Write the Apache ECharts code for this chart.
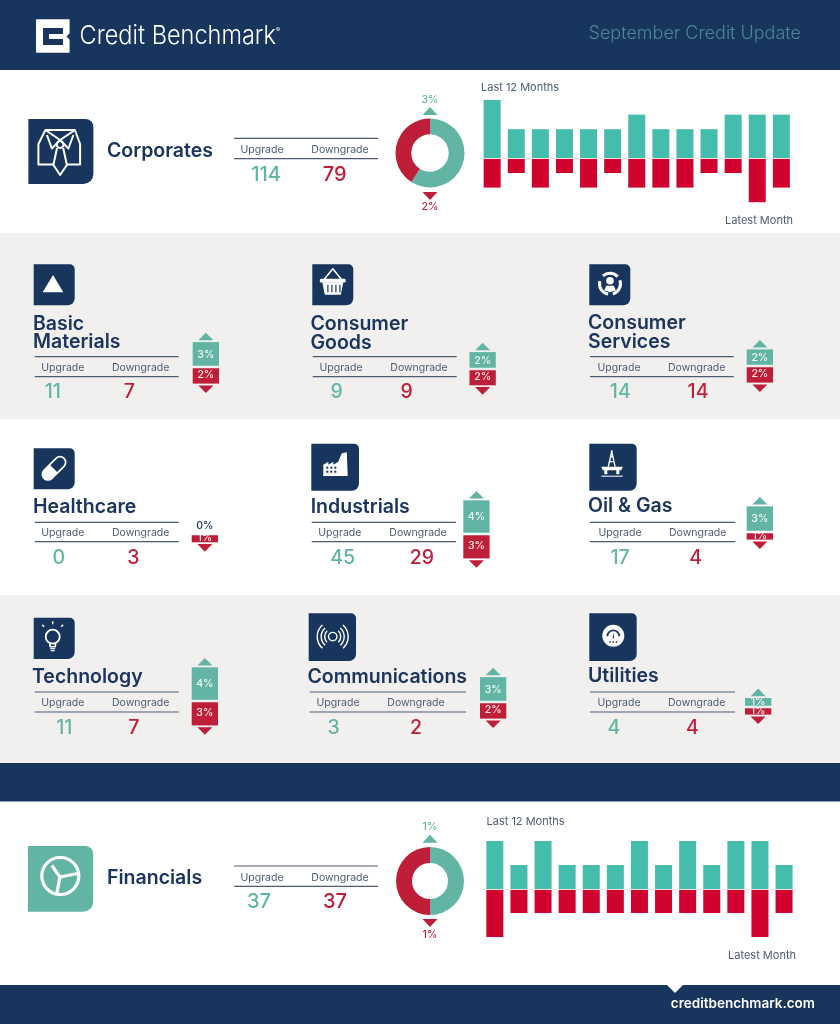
<!DOCTYPE html>
<html>
<head>
<meta charset="utf-8">
<title>September Credit Update</title>
<script src="https://cdn.jsdelivr.net/npm/echarts@6/dist/echarts.min.js"></script>
<style>
  html, body { margin: 0; padding: 0; background: #fff; }
  #chart { width: 840px; height: 1024px; }
</style>
</head>
<body>
<div id="chart"></div>
<script>
// values
const monthIndex = ['1', '2', '3', '4', '5', '6', '7', '8', '9', '10', '11', '12', '13'];
const corporatesUp = [4, 2, 2, 2, 2, 2, 3, 2, 2, 2, 3, 3, 3];
const corporatesDown = [-2, -1, -2, -1, -2, -1, -2, -2, -2, -1, -1, -3, -2];
const financialsUp = [2, 1, 2, 1, 1, 1, 2, 1, 2, 1, 2, 2, 1];
const financialsDown = [-2, -1, -1, -1, -1, -1, -1, -1, -1, -1, -1, -2, -1];
const corporatesCounts = [114, 79];
const financialsCounts = [37, 37];
const corporatesPct = [3, 2];
const financialsPct = [1, 1];

const sectorNames = ['Basic Materials', 'Consumer Goods', 'Consumer Services', 'Healthcare', 'Industrials', 'Oil & Gas', 'Technology', 'Communications', 'Utilities'];
const sectorUpgrades = [11, 9, 14, 0, 45, 17, 11, 3, 4];
const sectorDowngrades = [7, 9, 14, 3, 29, 4, 7, 2, 4];
const sectorUpPct = [3, 2, 2, 0, 4, 3, 4, 3, 1];
const sectorDownPct = [-2, -2, -2, -1, -3, -1, -3, -2, -1];

const NAVY = '#17355d', TITLE = '#1c3560', TEAL = '#62b5a4', RED = '#be1e37';
const BAR_TEAL = '#45bdad', BAR_RED = '#d0022e', GREY = '#f1f0ee', TEXT = '#4d5b73';
const FONT = 'Inter';

// where each sector block sits on the page
const sectorLayout = [
  { icon: [33.7, 264.3, 41, 41], titleX: 33, titleY: [323.5, 341.5], line: [34.7, 178.7, 356.7, 376.7], upX: 62.8, downX: 140.7, upVal: 52.8, downVal: 129.3, valY: 391, barX: 192.7, zero: 367, bg: GREY },
  { icon: [312.3, 264.3, 41, 41], titleX: 310.5, titleY: [323.5, 342], line: [312.7, 456.7, 356.7, 376.7], upX: 341, downX: 419, upVal: 336.7, downVal: 406.7, valY: 391, barX: 469.5, zero: 368.7, bg: GREY },
  { icon: [589.3, 264.3, 41, 41], titleX: 588, titleY: [322.5, 341], line: [590, 733.7, 356.7, 376.7], upX: 619, downX: 696.7, upVal: 620.3, downVal: 698, valY: 391, barX: 746.7, zero: 366, bg: GREY },
  { icon: [33.7, 448.3, 41, 41], titleX: 33, titleY: [505.7], line: [34.7, 178.7, 522.3, 541.7], upX: 62.8, downX: 140.7, upVal: 58.7, downVal: 133.3, valY: 556.7, barX: 191.7, zero: 534, bg: '#fff' },
  { icon: [311.3, 443.7, 47.7, 47], titleX: 310.7, titleY: [505.7], line: [311.7, 456, 522.3, 541.7], upX: 339.8, downX: 418, upVal: 342.7, downVal: 422, valY: 556.7, barX: 463.3, zero: 533.5, bg: '#fff' },
  { icon: [589.3, 443.7, 47.4, 47], titleX: 588, titleY: [505], line: [590, 735.3, 522.3, 541.7], upX: 620, downX: 697.7, upVal: 620, downVal: 695.7, valY: 556.7, barX: 746.7, zero: 531.3, bg: '#fff' },
  { icon: [33.7, 617.7, 41, 41.3], titleX: 32, titleY: [675.7], line: [34.7, 178.7, 692, 712], upX: 62.8, downX: 140.7, upVal: 64.3, downVal: 133.7, valY: 727, barX: 191.7, zero: 700.5, bg: GREY },
  { icon: [308.7, 613.3, 47.3, 47.7], titleX: 307.5, titleY: [676], line: [309.7, 466, 692, 712], upX: 338, downX: 416, upVal: 333.7, downVal: 416, valY: 727, barX: 480, zero: 702, bg: GREY },
  { icon: [589.3, 613.3, 47.4, 47.7], titleX: 588, titleY: [675.3], line: [590, 735, 692, 712], upX: 619, downX: 696.7, upVal: 614, downVal: 692.3, valY: 727, barX: 745, zero: 706.3, bg: GREY }
];

// small drawing helpers for the graphic layer
function text(t, x, y, size, color, weight, align) {
  // +1 because Inter sits a touch high with middle alignment
  return { type: 'text', x: x, y: y + 1, silent: true, style: { text: t, fill: color, font: (weight || 400) + ' ' + size + 'px ' + FONT, textAlign: align || 'center', textVerticalAlign: 'middle' } };
}
function rect(x, y, w, h, fill, r) {
  return { type: 'rect', silent: true, shape: { x: x, y: y, width: w, height: h, r: r || 0 }, style: { fill: fill } };
}
function hline(x1, x2, y, color, w) {
  return { type: 'line', silent: true, shape: { x1: x1, y1: y, x2: x2, y2: y }, style: { stroke: color || TEXT, lineWidth: w || 1.2 } };
}
function poly(points, fill) {
  return { type: 'polygon', silent: true, shape: { points: points }, style: { fill: fill || '#fff' } };
}
function stroke(points, w, color) {
  return { type: 'polyline', silent: true, shape: { points: points }, style: { stroke: color || '#fff', lineWidth: w || 1.8, fill: null, lineJoin: 'round' } };
}
function circle(cx, cy, r, fill, strokeColor, w) {
  return { type: 'circle', silent: true, shape: { cx: cx, cy: cy, r: r }, style: { fill: fill || null, stroke: strokeColor || null, lineWidth: w || 0 } };
}
function arc(cx, cy, r, a, b, w, color) {
  return { type: 'arc', silent: true, shape: { cx: cx, cy: cy, r: r, startAngle: a, endAngle: b }, style: { stroke: color || '#fff', lineWidth: w || 1.5, fill: null } };
}

// icon glyphs, coordinates are local to the icon tile
const glyphs = {
  corporates: [
    stroke([[25, 45.5], [10, 45.5], [10, 25], [17, 11], [46.5, 11], [51.7, 25], [51.7, 45.5], [38.5, 45.5]], 2),
    stroke([[17, 11], [31.7, 21], [46.5, 11]], 2),
    stroke([[18.5, 16], [23.5, 29.5], [31.7, 21], [40, 29.5], [45, 16]], 2),
    circle(31.7, 25.5, 3.4, null, '#fff', 2),
    stroke([[28.6, 29], [25, 46], [31.7, 56], [38.5, 46], [34.8, 29]], 2)
  ],
  basic: [poly([[9, 28], [29.6, 28], [19.3, 10.7]])],
  goods: [
    stroke([[12, 15], [20.5, 4.5], [29, 15]], 1.6),
    rect(7.5, 14.5, 26, 3.6, '#fff', 1.5),
    poly([[10, 18], [31, 18], [28.5, 30.5], [12.5, 30.5]]),
    rect(15, 20.5, 1.2, 7.5, NAVY), rect(19, 20.5, 1.2, 7.5, NAVY), rect(23, 20.5, 1.2, 7.5, NAVY), rect(27, 20.5, 1.2, 7.5, NAVY)
  ],
  services: [
    arc(20.7, 19.5, 10.5, -2.3, -0.75, 3), arc(20.7, 19.5, 10.5, -0.35, 1.3, 3), arc(20.7, 19.5, 10.5, 1.75, 3.4, 3),
    circle(20.7, 16.5, 3.8, '#fff'),
    poly([[15, 26], [17, 21.5], [24.5, 21.5], [26.5, 26], [20.7, 28]])
  ],
  healthcare: [{
    type: 'group', x: 20.3, y: 20, rotation: Math.PI / 4, silent: true,
    children: [
      rect(-15, -6.5, 30, 13, '#fff', 6.5),
      rect(-0.5, -4.8, 13.8, 9.6, NAVY, [0, 4.8, 4.8, 0])
    ]
  }],
  industrials: [
    poly([[12, 32.3], [12, 21], [17, 18], [17, 21], [22, 18], [22, 21], [27, 18], [30.5, 9.5], [35.5, 8.6], [36.4, 32.3]]),
    rect(15, 23, 2, 2, NAVY), rect(19, 23, 2, 2, NAVY), rect(23, 23, 2, 2, NAVY),
    rect(15, 27, 2, 2, NAVY), rect(19, 27, 2, 2, NAVY), rect(23, 27, 2, 2, NAVY)
  ],
  oil: [
    stroke([[19, 23], [22.4, 8], [25.8, 23]], 1.4),
    stroke([[20, 18], [24.8, 18]], 1.2),
    stroke([[20.8, 13], [24, 13]], 1.2),
    rect(21.6, 6.5, 1.6, 3, '#fff'),
    poly([[12, 23], [33.5, 23], [32, 26.5], [13.5, 26.5]]),
    rect(15, 26, 3, 4.5, '#fff'), rect(27, 26, 3, 4.5, '#fff'),
    stroke([[12, 32.5], [33.5, 32.5]], 1)
  ],
  technology: [
    circle(19, 19, 7, null, '#fff', 1.8),
    stroke([[16, 25], [16.5, 29], [21.5, 29], [22, 25]], 1.6),
    hline(16.5, 21.5, 31, '#fff', 1.2), hline(17, 21, 33, '#fff', 1.2),
    stroke([[19, 3.5], [19, 6.5]], 1.4), stroke([[8.5, 7], [10.5, 9]], 1.4), stroke([[29.5, 7], [27.5, 9]], 1.4)
  ],
  communications: [
    circle(24, 23.3, 4.2, null, '#fff', 1.4),
    arc(24, 23.3, 8, -0.8, 0.8, 1.4), arc(24, 23.3, 8, 2.34, 3.94, 1.4),
    arc(24, 23.3, 11.5, -0.85, 0.85, 1.4), arc(24, 23.3, 11.5, 2.29, 3.99, 1.4),
    arc(24, 23.3, 15.5, -0.85, 0.85, 1.4), arc(24, 23.3, 15.5, 2.29, 3.99, 1.4)
  ],
  utilities: [
    circle(24, 22.4, 11, '#fff'),
    arc(24, 23, 6, Math.PI, 2 * Math.PI, 1.8, NAVY),
    poly([[23.2, 25], [24.8, 25], [24.6, 19.5]], NAVY),
    rect(20, 28, 1.5, 1.5, NAVY), rect(23.2, 28, 1.5, 1.5, NAVY), rect(26.4, 28, 1.5, 1.5, NAVY)
  ],
  financials: [
    circle(32.4, 30, 18.5, null, '#fff', 3.2),
    stroke([[24, 19.5], [32, 31], [50, 27.5]], 3.2),
    stroke([[32, 31], [28.8, 48]], 3.2)
  ]
};
const sectorGlyphs = ['basic', 'goods', 'services', 'healthcare', 'industrials', 'oil', 'technology', 'communications', 'utilities'];

function iconTile(box, color, glyph, big) {
  const r = big ? [0, 8, 10, 0] : [0, 5, 7, 0];
  return {
    type: 'group', x: box[0], y: box[1], silent: true,
    children: [rect(0, 0, box[2], box[3], color, r)].concat(glyphs[glyph])
  };
}

// the wordmark is narrower than Inter, so squeeze it
const wordmark = text('Credit Benchmark', 79.5, 35.5, 26, '#fff', 300, 'left');
wordmark.scaleX = 0.905;

// page background first, everything else is stacked on it
const elements = [
  rect(0, 0, 840, 70, NAVY),
  rect(0, 233, 840, 186, GREY),
  rect(0, 595, 840, 168, GREY),
  rect(0, 763, 840, 38.5, NAVY),
  rect(0, 985, 840, 39, NAVY),
  poly([[667, 985], [683, 985], [675, 993]], '#fff'),
  // logo
  rect(36, 19.3, 33.6, 33.4, '#fff', 1),
  rect(43, 28, 20, 17, NAVY),
  rect(49, 34, 14, 5, '#fff'),
  poly([[70, 33], [70, 40], [66.5, 36.5]], NAVY),
  wordmark,
  text('®', 276, 29, 6, '#fff', 400, 'left'),
  text('September Credit Update', 801, 33, 18, '#4c8697', 300, 'right'),
  text('creditbenchmark.com', 815, 1003, 13.5, '#fff', 600, 'right')
];

const grids = [], xAxes = [], yAxes = [], series = [];

function addGrid(left, top, width, height, yMin, yMax, seamColor, seamWidth, cats) {
  const idx = grids.length;
  grids.push({ left: left, top: top, width: width, height: height, containLabel: false });
  xAxes.push({
    gridIndex: idx, type: 'category', data: cats, z: 5,
    axisLine: { show: true, onZero: true, lineStyle: { color: seamColor, width: seamWidth } },
    axisTick: { show: false }, axisLabel: { show: false }, splitLine: { show: false }
  });
  yAxes.push({ gridIndex: idx, type: 'value', min: yMin, max: yMax, show: false, splitLine: { show: false } });
  return idx;
}

// headline blocks with the 12 month bars and the doughnut
function headline(opts) {
  elements.push(iconTile(opts.icon, opts.iconColor, opts.glyph, true));
  elements.push(text(opts.name, 107, opts.nameY, 19.5, TITLE, 600, 'left'));
  elements.push(hline(234, 378, opts.lineY[0]), hline(234, 378, opts.lineY[1]));
  elements.push(text('Upgrade', 262, opts.labelY, 10.5, TEXT));
  elements.push(text('Downgrade', 340, opts.labelY, 10.5, TEXT));
  elements.push(text(String(opts.counts[0]), opts.valX[0], opts.valY, 20, TEAL, 500));
  elements.push(text(String(opts.counts[1]), opts.valX[1], opts.valY, 20, RED, 500));
  elements.push(text(opts.pct[0] + '%', 430, opts.pctY[0], 10.5, TEAL, 500));
  elements.push(text(opts.pct[1] + '%', 430, opts.pctY[1], 10.5, RED, 500));
  elements.push(poly([[422.5, opts.triUp + 8], [437.5, opts.triUp + 8], [430, opts.triUp]], TEAL));
  elements.push(poly([[422.5, opts.triDown], [437.5, opts.triDown], [430, opts.triDown + 8]], RED));
  elements.push(text('Last 12 Months', opts.lastX, opts.lastY, 11, TEXT, 400, 'left'));
  elements.push(text('Latest Month', opts.latestX, opts.latestY, 11, TEXT, 400, 'right'));

  series.push({
    type: 'pie', silent: true, center: [430, opts.donutY], radius: [opts.donutR[0], opts.donutR[1]],
    startAngle: 90, clockwise: true, label: { show: false }, labelLine: { show: false },
    data: [
      { value: opts.counts[0], name: 'Upgrade', itemStyle: { color: TEAL } },
      { value: opts.counts[1], name: 'Downgrade', itemStyle: { color: RED } }
    ]
  });

  const g = addGrid(opts.barLeft, opts.barTop, 313.3, opts.barHeight, opts.barMin, opts.barMax, '#f4dfdf', 1, monthIndex);
  series.push({ type: 'bar', xAxisIndex: g, yAxisIndex: g, data: opts.up, barWidth: 17, barGap: '-100%', itemStyle: { color: BAR_TEAL }, silent: true });
  series.push({ type: 'bar', xAxisIndex: g, yAxisIndex: g, data: opts.down, barWidth: 17, barGap: '-100%', itemStyle: { color: BAR_RED }, silent: true });
}

headline({
  name: 'Corporates', nameY: 150, icon: [28.4, 119, 65, 65], iconColor: NAVY, glyph: 'corporates',
  lineY: [138.3, 158.7], labelY: 149, valX: [266, 334.7], valY: 173.5, counts: corporatesCounts, pct: corporatesPct,
  pctY: [99, 206], triUp: 107, triDown: 192, donutY: 153, donutR: [18.7, 34.5],
  lastX: 481, lastY: 87, latestX: 793, latestY: 220,
  barLeft: 480.1, barTop: 100, barHeight: 102.2, barMin: -3, barMax: 4, up: corporatesUp, down: corporatesDown
});
headline({
  name: 'Financials', nameY: 877.3, icon: [27.9, 846, 65.3, 65.7], iconColor: TEAL, glyph: 'financials',
  lineY: [866, 886.3], labelY: 876.7, valX: [259, 335], valY: 900.7, counts: financialsCounts, pct: financialsPct,
  pctY: [826, 934], triUp: 834.7, triDown: 919, donutY: 881, donutR: [18, 34],
  lastX: 486.5, lastY: 821, latestX: 796, latestY: 955,
  barLeft: 482.8, barTop: 841, barHeight: 96, barMin: -2, barMax: 2, up: financialsUp, down: financialsDown
});

// sector blocks, one little grid each for the up/down bars
sectorNames.forEach(function (name, i) {
  const l = sectorLayout[i];
  elements.push(iconTile(l.icon, NAVY, sectorGlyphs[i], false));
  const parts = l.titleY.length > 1 ? name.split(' ') : [name];
  parts.forEach(function (p, k) { elements.push(text(p, l.titleX, l.titleY[k], 19.5, TITLE, 600, 'left')); });
  elements.push(hline(l.line[0], l.line[1], l.line[2]), hline(l.line[0], l.line[1], l.line[3]));
  const labelY = (l.line[2] + l.line[3]) / 2 + 0.3;
  elements.push(text('Upgrade', l.upX, labelY, 10.5, TEXT));
  elements.push(text('Downgrade', l.downX, labelY, 10.5, TEXT));
  elements.push(text(String(sectorUpgrades[i]), l.upVal, l.valY, 19.5, TEAL, 500));
  elements.push(text(String(sectorDowngrades[i]), l.downVal, l.valY, 19.5, RED, 500));

  const g = addGrid(l.barX, l.zero - 49.8, 26.3, 99.6, -6, 6, l.bg, 2.4, [name]);
  const upVal = sectorUpPct[i], downVal = sectorDownPct[i];
  series.push({
    type: 'bar', xAxisIndex: g, yAxisIndex: g, barWidth: '100%', barGap: '-100%', silent: true,
    data: [upVal], itemStyle: { color: TEAL },
    label: {
      show: true, position: upVal === 0 ? 'top' : 'inside', distance: 3,
      color: upVal === 0 ? TITLE : '#f3f7f6', fontFamily: FONT, fontSize: 10.5, fontWeight: 500,
      formatter: function (p) { return Math.abs(p.value) + '%'; }
    }
  });
  series.push({
    type: 'bar', xAxisIndex: g, yAxisIndex: g, barWidth: '100%', barGap: '-100%', silent: true,
    data: [downVal], itemStyle: { color: RED },
    label: {
      show: true, position: 'inside', color: '#f6e9ea', fontFamily: FONT, fontSize: 10.5, fontWeight: 500,
      formatter: function (p) { return Math.abs(p.value) + '%'; }
    }
  });
  // arrows sit just past the end of each bar, healthcare has no up arrow at 0%
  if (upVal !== 0) {
    series.push({
      type: 'scatter', xAxisIndex: g, yAxisIndex: g, silent: true, data: [[0, upVal]],
      symbol: 'triangle', symbolSize: [15, 7.6], symbolOffset: [0, -5.6], itemStyle: { color: TEAL, opacity: 1 }
    });
  }
  series.push({
    type: 'scatter', xAxisIndex: g, yAxisIndex: g, silent: true, data: [[0, downVal]],
    symbol: 'triangle', symbolSize: [15, 7.6], symbolRotate: 180, symbolOffset: [0, 5.6], itemStyle: { color: RED, opacity: 1 }
  });
});

const chart = echarts.init(document.getElementById('chart'));
chart.setOption({
  animation: false,
  backgroundColor: '#fff',
  tooltip: { show: false },
  graphic: { elements: elements },
  grid: grids,
  xAxis: xAxes,
  yAxis: yAxes,
  series: series
});

window.addEventListener('resize', function () { chart.resize(); });
</script>
</body>
</html>
